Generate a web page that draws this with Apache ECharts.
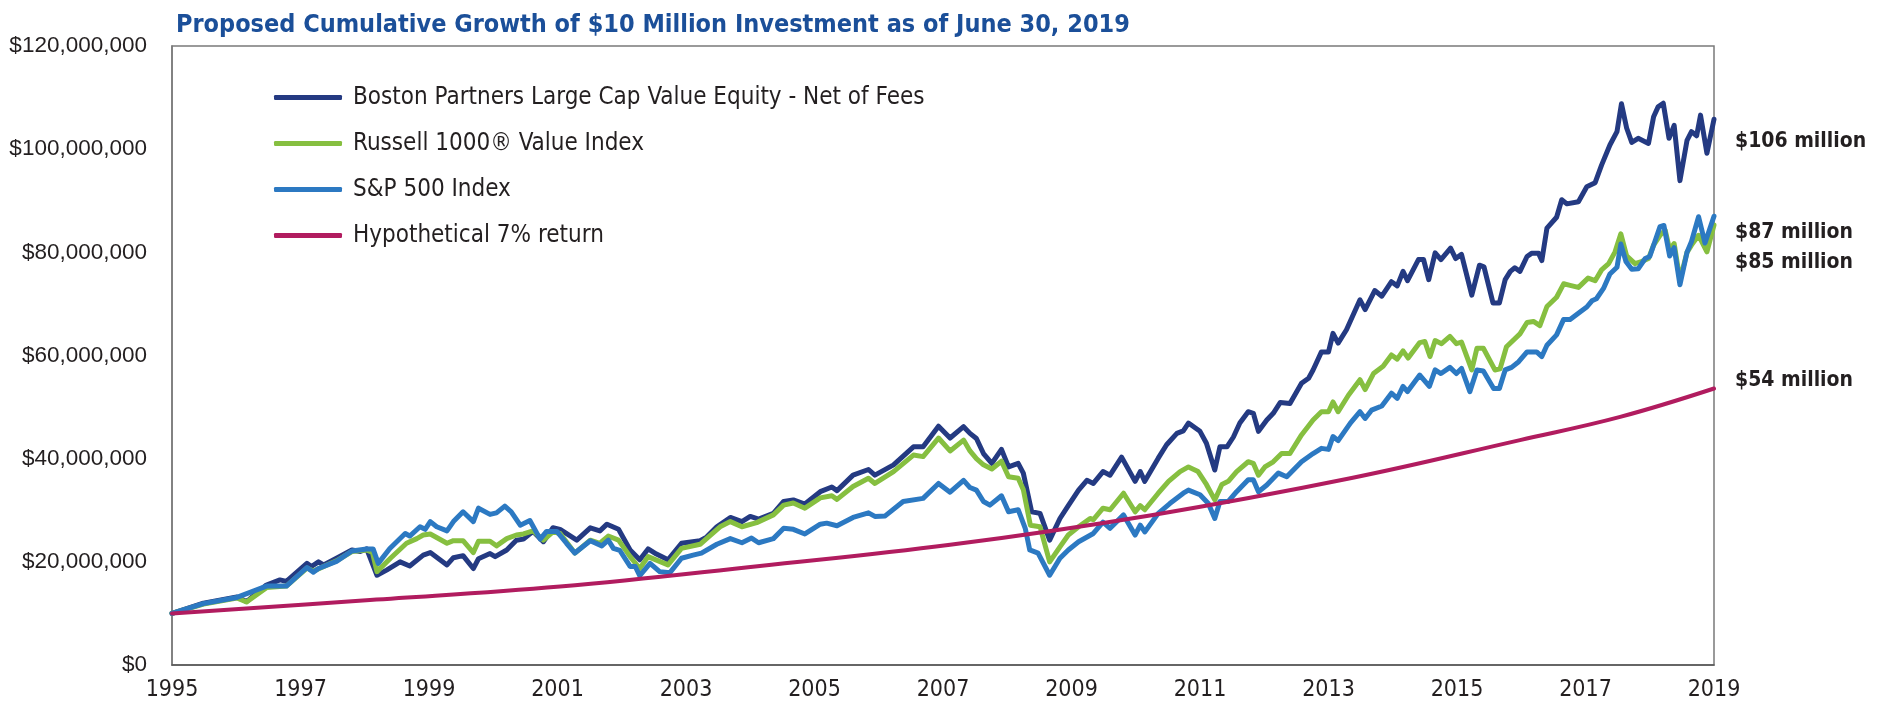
<!DOCTYPE html>
<html>
<head>
<meta charset="utf-8">
<script src="https://cdn.jsdelivr.net/npm/echarts@6/dist/echarts.min.js"></script>
<style>
  html, body { margin: 0; padding: 0; background: #fff; }
  #chart { width: 1885px; height: 705px; }
</style>
</head>
<body>
<div id="chart"></div>
<script>
// growth of $10M, values in $ millions, x = year
var bostonData = [
  [1995.0, 10.0], [1995.49, 12.0], [1996.01, 13.2], [1996.16, 12.3], [1996.47, 15.5], [1996.68, 16.5], [1996.78, 16.2],
  [1997.10, 19.7], [1997.17, 19.1], [1997.28, 20.0], [1997.36, 19.4], [1997.56, 20.7], [1997.80, 22.3], [1997.93, 22.0],
  [1998.03, 22.5], [1998.19, 17.4], [1998.34, 18.4], [1998.55, 20.0], [1998.70, 19.2], [1998.91, 21.3], [1999.02, 21.8],
  [1999.28, 19.4], [1999.38, 20.8], [1999.53, 21.2], [1999.69, 18.7], [1999.77, 20.6], [1999.95, 21.6], [2000.03, 21.0],
  [2000.21, 22.3], [2000.36, 24.2], [2000.47, 24.4], [2000.62, 25.9], [2000.78, 23.9], [2000.93, 26.6], [2001.04, 26.3],
  [2001.30, 24.2], [2001.51, 26.6], [2001.66, 26.0], [2001.77, 27.3], [2001.95, 26.3], [2002.13, 22.3], [2002.28, 20.4],
  [2002.41, 22.5], [2002.54, 21.5], [2002.72, 20.4], [2002.93, 23.6], [2003.22, 24.1], [2003.32, 24.8], [2003.48, 26.8],
  [2003.69, 28.6], [2003.87, 27.8], [2004.00, 28.8], [2004.13, 28.3], [2004.36, 29.4], [2004.52, 31.7], [2004.67, 32.0],
  [2004.85, 31.2], [2005.09, 33.6], [2005.27, 34.5], [2005.35, 33.8], [2005.60, 36.8], [2005.84, 37.9], [2005.94, 36.8],
  [2006.23, 38.8], [2006.54, 42.3], [2006.69, 42.3], [2006.93, 46.3], [2007.11, 44.0], [2007.32, 46.2], [2007.42, 44.9],
  [2007.52, 43.9], [2007.63, 41.0], [2007.76, 39.1], [2007.91, 41.8], [2008.02, 38.4], [2008.17, 39.1], [2008.25, 37.2],
  [2008.38, 29.7], [2008.51, 29.4], [2008.66, 24.2], [2008.82, 28.4], [2008.95, 30.9], [2009.11, 33.9], [2009.24, 35.8],
  [2009.34, 35.2], [2009.49, 37.5], [2009.60, 36.8], [2009.78, 40.3], [2009.99, 35.6], [2010.07, 37.5], [2010.14, 35.6],
  [2010.35, 40.1], [2010.48, 42.7], [2010.64, 44.9], [2010.74, 45.4], [2010.82, 46.9], [2011.00, 45.3], [2011.10, 43.0],
  [2011.23, 37.8], [2011.31, 42.3], [2011.42, 42.3], [2011.52, 44.2], [2011.62, 46.9], [2011.75, 49.1], [2011.83, 48.8],
  [2011.91, 45.3], [2012.04, 47.5], [2012.14, 48.8], [2012.25, 50.9], [2012.40, 50.7], [2012.58, 54.6], [2012.69, 55.6],
  [2012.76, 57.2], [2012.89, 60.7], [2013.00, 60.7], [2013.07, 64.3], [2013.15, 62.4], [2013.28, 65.0], [2013.49, 70.8],
  [2013.57, 68.9], [2013.72, 72.6], [2013.83, 71.5], [2013.98, 74.3], [2014.07, 73.5], [2014.16, 76.3], [2014.23, 74.5],
  [2014.40, 78.6], [2014.48, 78.6], [2014.56, 74.7], [2014.66, 79.9], [2014.75, 78.6], [2014.90, 80.8], [2014.98, 78.8],
  [2015.07, 79.6], [2015.23, 71.7], [2015.35, 77.5], [2015.42, 77.2], [2015.56, 70.2], [2015.66, 70.2], [2015.75, 74.7],
  [2015.83, 76.3], [2015.90, 77.0], [2015.98, 76.3], [2016.09, 79.2], [2016.16, 79.8], [2016.27, 79.8], [2016.32, 78.4],
  [2016.40, 84.7], [2016.55, 86.8], [2016.63, 90.2], [2016.71, 89.4], [2016.89, 89.8], [2017.02, 92.7], [2017.15, 93.5],
  [2017.25, 96.9], [2017.38, 100.8], [2017.49, 103.4], [2017.56, 108.8], [2017.64, 104.1], [2017.72, 101.3], [2017.82, 102.1],
  [2017.98, 101.1], [2018.06, 106.3], [2018.13, 108.2], [2018.21, 108.9], [2018.30, 102.1], [2018.38, 104.6], [2018.47, 93.9],
  [2018.58, 101.7], [2018.65, 103.4], [2018.73, 102.6], [2018.79, 106.6], [2018.89, 99.2], [2019.0, 105.8]
];

var russellData = [
  [1995.0, 10.0], [1995.49, 11.8], [1996.01, 13.0], [1996.16, 12.2], [1996.47, 15.0], [1996.78, 15.3], [1997.10, 18.8],
  [1997.20, 18.2], [1997.56, 20.2], [1997.80, 22.0], [1998.03, 22.3], [1998.12, 21.8], [1998.19, 18.1], [1998.40, 20.7],
  [1998.65, 23.6], [1998.81, 24.5], [1998.91, 25.2], [1999.02, 25.4], [1999.28, 23.6], [1999.38, 24.1], [1999.53, 24.1],
  [1999.69, 21.8], [1999.77, 24.0], [1999.95, 24.0], [2000.05, 23.1], [2000.21, 24.5], [2000.36, 25.2], [2000.47, 25.4],
  [2000.62, 26.0], [2000.78, 24.2], [2000.93, 25.8], [2001.04, 25.5], [2001.27, 21.7], [2001.51, 24.2], [2001.66, 23.6],
  [2001.79, 25.0], [2001.95, 24.2], [2002.13, 21.0], [2002.28, 18.7], [2002.41, 21.0], [2002.72, 19.4], [2002.93, 22.6],
  [2003.22, 23.4], [2003.32, 24.5], [2003.53, 26.8], [2003.69, 27.8], [2003.87, 26.8], [2004.10, 27.6], [2004.36, 29.1],
  [2004.52, 31.0], [2004.67, 31.4], [2004.85, 30.4], [2005.09, 32.4], [2005.27, 32.8], [2005.35, 32.1], [2005.60, 34.6],
  [2005.84, 36.2], [2005.94, 35.2], [2006.23, 37.5], [2006.54, 40.7], [2006.69, 40.4], [2006.93, 44.0], [2007.11, 41.5],
  [2007.32, 43.6], [2007.42, 41.5], [2007.52, 40.0], [2007.63, 38.8], [2007.76, 38.0], [2007.91, 39.5], [2008.02, 36.5],
  [2008.17, 36.2], [2008.25, 34.0], [2008.36, 27.1], [2008.51, 26.8], [2008.66, 20.0], [2008.82, 22.9], [2008.95, 25.2],
  [2009.11, 26.8], [2009.29, 28.4], [2009.34, 28.2], [2009.49, 30.4], [2009.60, 30.1], [2009.81, 33.3], [2009.99, 29.7],
  [2010.07, 30.9], [2010.14, 30.1], [2010.35, 33.3], [2010.51, 35.6], [2010.69, 37.5], [2010.82, 38.4], [2010.97, 37.5],
  [2011.10, 35.0], [2011.23, 32.0], [2011.34, 35.0], [2011.44, 35.6], [2011.57, 37.5], [2011.75, 39.4], [2011.83, 39.1],
  [2011.91, 36.8], [2012.01, 38.4], [2012.14, 39.4], [2012.27, 41.0], [2012.40, 41.0], [2012.58, 44.6], [2012.76, 47.5],
  [2012.89, 49.1], [2013.00, 49.1], [2013.07, 51.0], [2013.15, 49.1], [2013.31, 52.3], [2013.49, 55.3], [2013.57, 53.4],
  [2013.70, 56.5], [2013.85, 57.9], [2013.98, 60.1], [2014.07, 59.3], [2014.16, 60.9], [2014.24, 59.5], [2014.42, 62.5],
  [2014.50, 62.7], [2014.58, 59.8], [2014.66, 62.9], [2014.76, 62.3], [2014.89, 63.7], [2014.99, 62.3], [2015.07, 62.6],
  [2015.23, 57.2], [2015.31, 61.4], [2015.41, 61.4], [2015.59, 57.2], [2015.67, 57.4], [2015.77, 61.7], [2015.98, 64.2],
  [2016.09, 66.4], [2016.19, 66.6], [2016.29, 65.8], [2016.40, 69.5], [2016.55, 71.3], [2016.66, 73.9], [2016.76, 73.6],
  [2016.89, 73.2], [2017.04, 75.0], [2017.15, 74.5], [2017.25, 76.6], [2017.36, 77.8], [2017.46, 80.1], [2017.55, 83.6],
  [2017.64, 79.3], [2017.77, 77.8], [2017.87, 78.2], [2017.98, 78.8], [2018.06, 81.4], [2018.16, 83.3], [2018.24, 84.3],
  [2018.31, 80.5], [2018.38, 81.7], [2018.47, 74.6], [2018.58, 80.0], [2018.65, 81.4], [2018.76, 83.3], [2018.89, 80.1],
  [2019.0, 85.3]
];

var sp500Data = [
  [1995.0, 10.0], [1995.49, 11.9], [1996.01, 13.1], [1996.47, 15.3], [1996.78, 15.3], [1997.10, 18.9], [1997.20, 18.0],
  [1997.28, 18.7], [1997.56, 20.1], [1997.80, 22.1], [1998.03, 22.5], [1998.13, 22.5], [1998.21, 19.7], [1998.39, 22.6],
  [1998.63, 25.5], [1998.70, 25.0], [1998.86, 26.8], [1998.94, 26.3], [1999.02, 27.8], [1999.12, 26.8], [1999.28, 26.0],
  [1999.38, 27.8], [1999.53, 29.7], [1999.69, 27.8], [1999.77, 30.4], [1999.95, 29.2], [2000.05, 29.5], [2000.18, 30.8],
  [2000.28, 29.7], [2000.42, 27.1], [2000.57, 28.0], [2000.73, 24.4], [2000.83, 25.9], [2000.99, 25.9], [2001.14, 23.6],
  [2001.27, 21.7], [2001.51, 24.1], [2001.69, 23.1], [2001.79, 24.2], [2001.87, 22.6], [2001.97, 22.2], [2002.13, 19.1],
  [2002.21, 19.1], [2002.28, 17.3], [2002.44, 19.7], [2002.59, 18.1], [2002.75, 17.9], [2002.93, 20.7], [2003.11, 21.3],
  [2003.24, 21.7], [2003.48, 23.4], [2003.69, 24.5], [2003.87, 23.7], [2004.02, 24.6], [2004.13, 23.7], [2004.36, 24.5],
  [2004.52, 26.5], [2004.67, 26.3], [2004.85, 25.4], [2005.09, 27.3], [2005.19, 27.5], [2005.35, 27.0], [2005.60, 28.6],
  [2005.84, 29.5], [2005.94, 28.8], [2006.10, 28.9], [2006.38, 31.7], [2006.69, 32.3], [2006.93, 35.2], [2007.11, 33.5],
  [2007.32, 35.8], [2007.42, 34.4], [2007.52, 33.9], [2007.63, 31.7], [2007.73, 31.0], [2007.91, 32.8], [2008.02, 29.7],
  [2008.17, 30.1], [2008.28, 26.5], [2008.35, 22.3], [2008.48, 21.7], [2008.66, 17.4], [2008.82, 20.7], [2008.95, 22.3],
  [2009.11, 23.9], [2009.34, 25.5], [2009.49, 27.7], [2009.60, 26.5], [2009.81, 29.1], [2009.99, 25.2], [2010.07, 27.1],
  [2010.14, 25.8], [2010.35, 29.4], [2010.53, 31.3], [2010.74, 33.3], [2010.82, 33.9], [2011.00, 33.0], [2011.13, 31.3],
  [2011.23, 28.4], [2011.31, 31.7], [2011.44, 31.7], [2011.57, 33.6], [2011.75, 35.9], [2011.83, 35.9], [2011.91, 33.6],
  [2012.04, 34.9], [2012.22, 37.2], [2012.35, 36.5], [2012.58, 39.4], [2012.76, 41.0], [2012.89, 42.0], [2013.00, 41.8],
  [2013.07, 44.3], [2013.15, 43.5], [2013.34, 46.9], [2013.49, 49.1], [2013.57, 47.8], [2013.67, 49.4], [2013.83, 50.2],
  [2013.98, 52.7], [2014.07, 51.7], [2014.16, 54.0], [2014.23, 53.0], [2014.42, 56.2], [2014.57, 54.0], [2014.66, 57.2],
  [2014.75, 56.5], [2014.89, 57.7], [2014.99, 56.5], [2015.07, 57.5], [2015.20, 53.0], [2015.31, 57.2], [2015.41, 57.0],
  [2015.57, 53.6], [2015.66, 53.6], [2015.75, 57.2], [2015.85, 57.7], [2015.96, 58.8], [2016.09, 60.7], [2016.24, 60.7],
  [2016.32, 59.8], [2016.40, 62.0], [2016.55, 64.0], [2016.66, 67.0], [2016.76, 67.0], [2016.92, 68.5], [2017.02, 69.4],
  [2017.10, 70.6], [2017.17, 71.0], [2017.28, 73.0], [2017.38, 75.8], [2017.49, 77.1], [2017.55, 81.6], [2017.63, 78.2],
  [2017.72, 76.7], [2017.82, 76.8], [2017.93, 78.8], [2018.00, 79.2], [2018.08, 82.1], [2018.16, 85.0], [2018.22, 85.2],
  [2018.31, 79.3], [2018.38, 80.9], [2018.47, 73.7], [2018.58, 80.0], [2018.65, 82.1], [2018.76, 86.9], [2018.86, 81.8],
  [2019.0, 87.0]
];

var hypotheticalData = [
  [1995.0, 10.0], [1998.08, 12.6], [2001.04, 15.2], [2004.15, 19.2], [2007.11, 23.3], [2010.22, 29.0],
  [2013.34, 36.2], [2015.98, 43.6], [2017.54, 48.1], [2019.0, 53.6]
];

var seriesNames = [
  'Boston Partners Large Cap Value Equity - Net of Fees',
  'Russell 1000\u00AE Value Index',
  'S&P 500 Index',
  'Hypothetical 7% return'
];
var seriesColors = ['#243a82', '#86bf40', '#2c79c2', '#b11c5f'];
var endLabels = ['$106 million', '$87 million', '$85 million', '$54 million'];

var narrow = "'DejaVu Sans Condensed', 'Liberation Sans Narrow', sans-serif";
var chart = echarts.init(document.getElementById('chart'));

function lineSeries(idx, data, width, smooth) {
  return {
    name: seriesNames[idx],
    type: 'line',
    data: data,
    showSymbol: false,
    smooth: smooth,
    color: seriesColors[idx],
    lineStyle: { width: width, color: seriesColors[idx], join: 'round', cap: 'round' },
    z: 2 + idx
  };
}

var labelFont = 'bold 21px ' + narrow;

var option = {
  animation: false,
  backgroundColor: '#ffffff',
  title: {
    text: 'Proposed Cumulative Growth of $10 Million Investment as of June 30, 2019',
    left: 171,
    top: 5,
    textStyle: { fontFamily: narrow, fontWeight: 'bold', fontSize: 25, color: '#1b4f99', lineHeight: 30 }
  },
  legend: {
    orient: 'vertical',
    left: 269,
    top: 79,
    itemWidth: 68,
    itemHeight: 5,
    itemGap: 19,
    icon: 'roundRect',
    data: seriesNames,
    selectedMode: false,
    textStyle: { fontFamily: narrow, fontSize: 24, color: '#231f20', lineHeight: 27, padding: [0, 0, 0, 6] }
  },
  grid: {
    left: 172, right: 171, top: 46, bottom: 40,
    show: true, borderColor: '#7a7a7a', borderWidth: 1.5
  },
  xAxis: {
    type: 'value',
    min: 1995, max: 2019, interval: 2,
    splitLine: { show: false },
    axisTick: { show: false },
    axisLine: { lineStyle: { color: '#555555', width: 1.5 } },
    axisLabel: {
      margin: 14,
      fontFamily: narrow, fontSize: 23, color: '#231f20',
      formatter: function (v) { return String(Math.round(v)); }
    }
  },
  yAxis: {
    type: 'value',
    min: 0, max: 120, interval: 20,
    splitLine: { show: false },
    axisTick: { show: false },
    axisLine: { show: true, lineStyle: { color: '#7a7a7a', width: 1.5 } },
    axisLabel: {
      margin: 25,
      fontFamily: "'Liberation Sans', Arial, sans-serif", fontSize: 22.5, color: '#231f20',
      formatter: function (v) { return '$' + (v * 1e6).toLocaleString('en-US'); }
    }
  },
  graphic: [
    { type: 'text', left: 1735, top: 131, style: { text: endLabels[0], font: labelFont, fill: '#231f20' } },
    { type: 'text', left: 1735, top: 222, style: { text: endLabels[1], font: labelFont, fill: '#231f20' } },
    { type: 'text', left: 1735, top: 252, style: { text: endLabels[2], font: labelFont, fill: '#231f20' } },
    { type: 'text', left: 1735, top: 370, style: { text: endLabels[3], font: labelFont, fill: '#231f20' } }
  ],
  series: [
    lineSeries(0, bostonData, 5, false),
    lineSeries(1, russellData, 5, false),
    lineSeries(2, sp500Data, 5, false),
    lineSeries(3, hypotheticalData, 4, 0.4)
  ]
};

chart.setOption(option);
</script>
</body>
</html>
